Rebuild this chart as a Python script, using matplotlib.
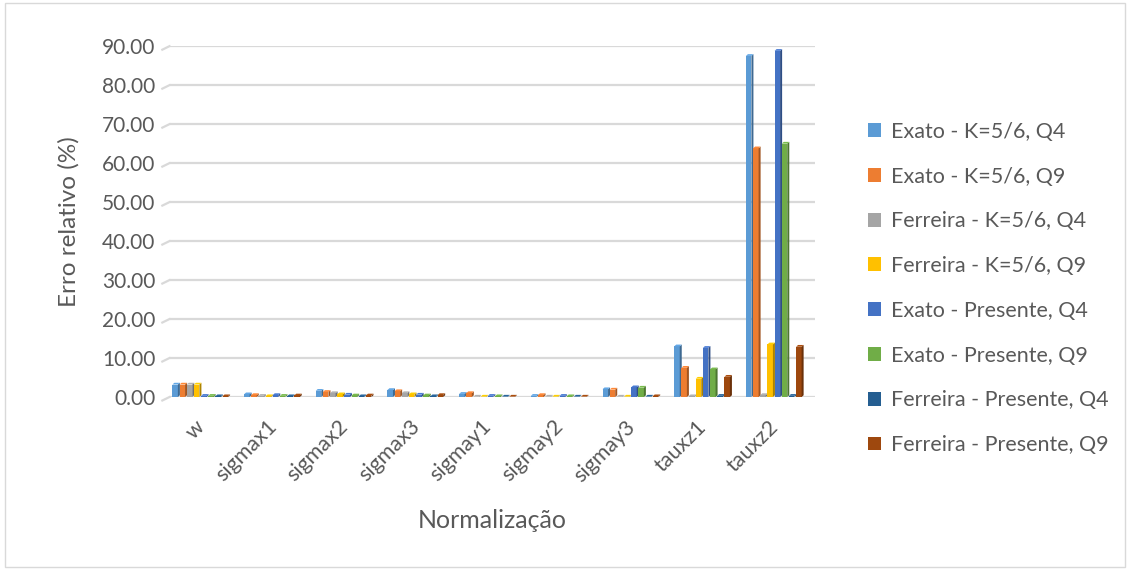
import matplotlib
matplotlib.use("Agg")
import matplotlib.pyplot as plt
from matplotlib.patches import Polygon, Rectangle
from matplotlib.lines import Line2D
import numpy as np

plt.rcParams['font.family'] = ['Lato', 'DejaVu Sans']

categories = ["w", "sigmax1", "sigmax2", "sigmax3", "sigmay1",
              "sigmay2", "sigmay3", "tauxz1", "tauxz2"]

series_names = [
    "Exato - K=5/6, Q4",
    "Exato - K=5/6, Q9",
    "Ferreira - K=5/6, Q4",
    "Ferreira - K=5/6, Q9",
    "Exato - Presente, Q4",
    "Exato - Presente, Q9",
    "Ferreira - Presente, Q4",
    "Ferreira - Presente, Q9",
]

exato_k_q4 = [3.2, 0.7, 1.6, 1.8, 0.8, 0.3, 2.0, 13.0, 87.5]
exato_k_q9 = [3.2, 0.5, 1.3, 1.5, 1.0, 0.5, 1.9, 7.5, 63.8]
ferreira_k_q4 = [3.2, 0.3, 1.0, 1.0, 0.1, 0.1, 0.1, 0.2, 0.5]
ferreira_k_q9 = [3.2, 0.2, 0.7, 0.7, 0.1, 0.1, 0.1, 4.7, 13.5]
exato_p_q4 = [0.3, 0.5, 0.6, 0.6, 0.3, 0.3, 2.5, 12.6, 88.8]
exato_p_q9 = [0.3, 0.3, 0.4, 0.4, 0.2, 0.2, 2.4, 7.1, 65.0]
ferreira_p_q4 = [0.2, 0.2, 0.2, 0.2, 0.1, 0.1, 0.1, 0.3, 0.3]
ferreira_p_q9 = [0.2, 0.4, 0.4, 0.5, 0.1, 0.1, 0.2, 5.2, 12.9]

series = [exato_k_q4, exato_k_q9, ferreira_k_q4, ferreira_k_q9,
          exato_p_q4, exato_p_q9, ferreira_p_q4, ferreira_p_q9]

colors = ["#5b9bd5", "#ed7d31", "#a5a5a5", "#ffc000",
          "#4472c4", "#70ad47", "#255e91", "#9e480e"]

yticks = [0, 10, 20, 30, 40, 50, 60, 70, 80, 90]

text_color = "#595959"
grid_color = "#d9d9d9"


def shade(hex_color, f):
    c = np.array(matplotlib.colors.to_rgb(hex_color))
    return tuple(np.clip(c * f, 0, 1))


fig = plt.figure(figsize=(11.3, 5.7), dpi=100)
ax = fig.add_axes([0.150, 0.3035, 0.571, 0.6155])

n_cat = len(categories)
n_ser = len(series)
slot = 0.1               # horizontal room per bar within a cluster
front_w = 0.077          # width of the front face
depth_x = 0.028          # horizontal depth of the 3-D side face (category units)
depth_y = 0.45           # vertical depth of the top face (data units)
x = np.arange(n_cat)
group_start = -0.46

ax.set_xlim(-0.5, n_cat - 0.5)
ax.set_ylim(0, 90)

# gridlines of the back wall with a short receding stub at the left
for yv in yticks:
    ax.axhline(yv, color=grid_color, lw=1.6, zorder=0)
    ax.add_line(Line2D([-0.5, -0.6], [yv, yv - 0.9], color=grid_color,
                       lw=1.6, clip_on=False, zorder=0))

for si, (vals, col) in enumerate(zip(series, colors)):
    for ci, v in enumerate(vals):
        x0 = x[ci] + group_start + si * slot
        x1 = x0 + front_w
        # front face
        ax.add_patch(Rectangle((x0, 0), front_w, v, facecolor=col,
                               edgecolor="none", zorder=3 + si))
        # right side face
        ax.add_patch(Polygon([(x1, 0), (x1 + depth_x, depth_y),
                              (x1 + depth_x, v + depth_y), (x1, v)],
                             closed=True, facecolor=shade(col, 0.68),
                             edgecolor="none", zorder=3 + si))
        # top face
        ax.add_patch(Polygon([(x0, v), (x1, v), (x1 + depth_x, v + depth_y),
                              (x0 + depth_x, v + depth_y)],
                             closed=True, facecolor=shade(col, 1.08),
                             edgecolor="none", zorder=3 + si))

for s in ax.spines.values():
    s.set_visible(False)

ax.set_yticks(yticks)
ax.set_yticklabels([f"{t:.2f}" for t in yticks], fontsize=15, color=text_color)
ax.set_xticks(x - 0.15)
ax.set_xticklabels(categories, rotation=45, ha="right", rotation_mode="anchor",
                   fontsize=15.5, color=text_color)
ax.tick_params(axis="both", length=0)
ax.tick_params(axis="y", pad=10)
ax.tick_params(axis="x", pad=14)

ax.set_ylabel("Erro relativo (%)", fontsize=17.5, color=text_color, labelpad=16)
ax.set_xlabel("Normalização", fontsize=18, color=text_color, labelpad=17)

handles = [Rectangle((0, 0), 1, 1, facecolor=c, edgecolor="none") for c in colors]
leg = fig.legend(handles, series_names, loc="center left",
                 bbox_to_anchor=(0.751, 0.494), frameon=False,
                 fontsize=15.5, labelcolor=text_color, handlelength=0.62,
                 handleheight=0.62, handletextpad=0.45, labelspacing=1.15)

# chart area border
fig.add_artist(Rectangle((0.004, 0.006), 0.992, 0.988, transform=fig.transFigure,
                         fill=False, edgecolor="#d9d9d9", lw=1.0))

fig.savefig("out.png", dpi=100, facecolor="white")
